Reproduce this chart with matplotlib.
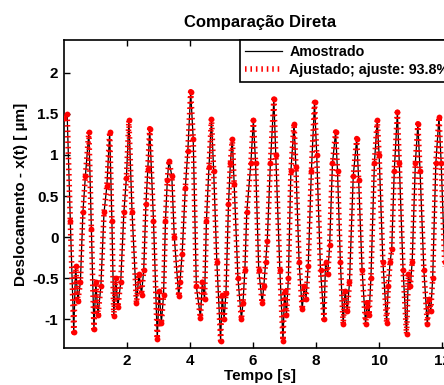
import matplotlib
matplotlib.use("Agg")
import matplotlib.pyplot as plt

# samples (time in s, displacement in um)
tempo = [0.00, 0.10, 0.20, 0.31, 0.37, 0.44, 0.52, 0.60, 0.68, 0.79,
         0.87, 0.95, 1.01, 1.08, 1.17, 1.27, 1.36, 1.45,
         1.52, 1.58, 1.64, 1.71, 1.80, 1.90, 1.98, 2.06,
         2.16, 2.30, 2.38, 2.46, 2.53, 2.60, 2.66, 2.72,
         2.84, 2.96, 3.02, 3.09, 3.16, 3.22, 3.28, 3.33,
         3.42, 3.50, 3.64, 3.68, 3.75, 3.85, 3.93, 4.02,
         4.10, 4.20, 4.33, 4.39, 4.46, 4.52, 4.60, 4.68,
         4.75, 4.85, 4.97, 5.02, 5.08, 5.14, 5.22, 5.28, 5.34,
         5.40, 5.52, 5.63, 5.68, 5.74, 5.80, 5.93, 6.01,
         6.08, 6.18, 6.29, 6.34, 6.40, 6.45, 6.55, 6.66,
         6.72, 6.85, 6.95, 7.00, 7.06, 7.12, 7.20, 7.30,
         7.36, 7.46, 7.56, 7.62, 7.68, 7.75, 7.85, 7.95,
         8.02, 8.14, 8.25, 8.30, 8.37, 8.43, 8.52, 8.62,
         8.68, 8.77, 8.86, 8.92, 8.99, 9.06, 9.18, 9.29,
         9.35, 9.46, 9.57, 9.62, 9.68, 9.74, 9.85, 9.94,
         10.00, 10.12, 10.24, 10.29, 10.35, 10.40, 10.48, 10.58,
         10.64, 10.76, 10.87, 10.93, 10.99, 11.05, 11.15, 11.23,
         11.30, 11.42, 11.53, 11.58, 11.64, 11.70, 11.80, 11.90,
         11.97, 12.08, 12.20, 12.26, 12.33, 12.42, 12.52]

amostrado = [1.45, 1.50, 0.20, -1.16, -0.35, -0.78, -0.55, 0.30, 0.75, 1.28,
             0.10, -1.12, -0.55, -0.95, -0.60, 0.30, 0.62, 1.28,
             0.20, -0.96, -0.50, -0.85, -0.55, 0.30, 0.72, 1.42,
             0.30, -0.80, -0.45, -0.70, -0.40, 0.40, 0.83, 1.32,
             0.20, -1.24, -0.65, -1.05, -0.70, 0.20, 0.70, 0.93,
             0.75, 0.00, -0.72, -0.55, -0.20, 0.60, 1.05, 1.77,
             1.20, -0.60, -0.98, -0.55, -0.75, 0.20, 0.85, 1.44,
             0.80, -0.30, -1.26, -0.70, -1.00, -0.68, 0.40, 0.90, 1.20,
             0.65, -0.50, -1.00, -0.80, -0.40, 0.30, 0.90, 1.42,
             0.90, -0.40, -0.80, -0.60, -0.30, -0.05, 0.90, 1.68,
             1.00, -0.40, -1.26, -0.65, -0.95, -0.50, 0.80, 1.38,
             0.85, -0.30, -0.88, -0.60, -0.75, -0.35, 0.80, 1.64,
             1.00, -0.40, -1.00, -0.30, -0.45, -0.10, 0.90, 1.28,
             0.80, -0.30, -1.06, -0.65, -0.90, -0.55, 0.75, 1.20,
             0.70, -0.40, -1.06, -0.80, -0.95, -0.50, 0.90, 1.42,
             1.00, -0.30, -1.04, -0.60, -0.30, -0.15, 0.80, 1.52,
             0.90, -0.40, -1.18, -0.45, -0.60, -0.30, 0.90, 1.38,
             0.80, -0.40, -1.06, -0.75, -0.90, -0.50, 0.90, 1.46,
             0.90, -0.30, -0.95, -0.60, -0.20, 0.80, 1.30]

ajustado = amostrado
ajuste_pct = 93.8

plt.rcParams['font.family'] = ['Liberation Sans', 'DejaVu Sans']
plt.rcParams['font.weight'] = 'bold'
plt.rcParams['font.size'] = 11

fig = plt.figure(figsize=(4.44, 3.85), dpi=100)
ax = fig.add_axes([64 / 444, 37 / 385, 392 / 444, 308 / 385])

ax.plot(tempo, amostrado, color='black', lw=0.9, label='Amostrado', zorder=2)
ax.plot(tempo, ajustado, color='red', lw=4.0, linestyle=(0, (0.28, 0.7)),
        dash_capstyle='butt', label=f'Ajustado; ajuste: {ajuste_pct}%', zorder=3)
ax.plot(tempo, ajustado, 'o', color='red', ms=4.2, mew=0, zorder=4)

ax.set_xlim(0, 12.44)
ax.set_ylim(-1.35, 2.4)
ax.set_xticks([2, 4, 6, 8, 10, 12])
ax.set_yticks([-1, -0.5, 0, 0.5, 1, 1.5, 2])
ax.set_yticklabels(['-1', '-0.5', '0', '0.5', '1', '1.5', '2'])
ax.tick_params(direction='in', top=True, right=True, length=4, width=1, labelsize=11, pad=4)
for s in ax.spines.values():
    s.set_linewidth(1.2)

ax.set_title('Comparação Direta', fontsize=12, fontweight='bold', pad=9)
ax.set_xlabel('Tempo [s]', fontsize=11, fontweight='bold', labelpad=1)
ax.set_ylabel('Deslocamento - x(t) [ µm]', fontsize=11, fontweight='bold', labelpad=3)

leg = ax.legend(loc='upper left', bbox_to_anchor=(240 / 444, 1 - 40 / 385),
                bbox_transform=fig.transFigure, fancybox=False, framealpha=1,
                edgecolor='black', borderaxespad=0, borderpad=0.35,
                handlelength=2.6, handletextpad=0.5, labelspacing=0.3,
                fontsize=10.3)
leg.get_frame().set_linewidth(1.2)

fig.savefig('out.png', dpi=100)
